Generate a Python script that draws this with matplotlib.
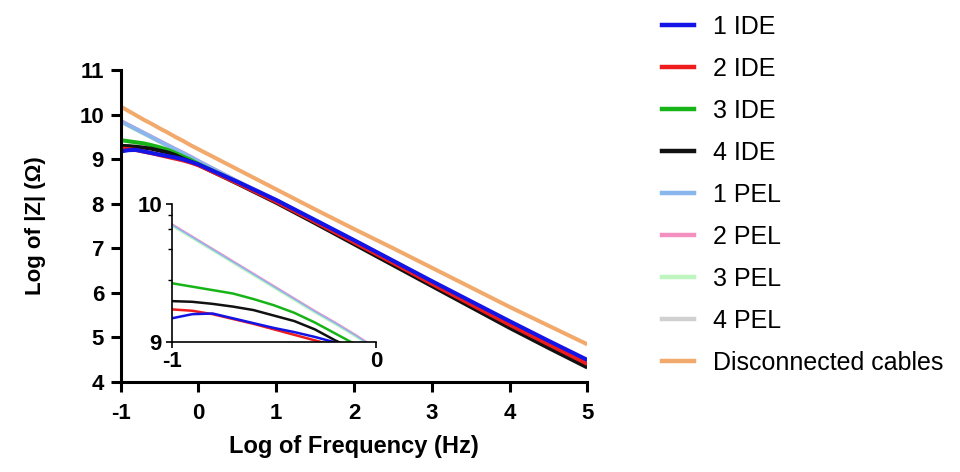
import matplotlib
matplotlib.use("Agg")
import matplotlib.pyplot as plt
from matplotlib.lines import Line2D

plt.rcParams['font.family'] = ['Liberation Sans', 'DejaVu Sans']
plt.rcParams['axes.unicode_minus'] = False

# log of frequency (Hz)
log_f = [-1, -0.9, -0.8, -0.7, -0.6, -0.5, -0.4, -0.3, -0.2, -0.1, 0,
         0.5, 1, 1.5, 2, 2.5, 3, 3.5, 4, 4.5, 5]

# log of |Z| for each electrode
ide1 = [9.17, 9.20, 9.205, 9.17, 9.135, 9.10, 9.07, 9.035, 8.995, 8.94, 8.88,
        8.49, 8.08, 7.63, 7.18, 6.72, 6.26, 5.81, 5.36, 4.92, 4.49]
ide2 = [9.235, 9.225, 9.20, 9.165, 9.13, 9.09, 9.05, 9.01, 8.97, 8.92, 8.86,
        8.46, 8.04, 7.59, 7.13, 6.67, 6.20, 5.74, 5.28, 4.84, 4.40]
ide3 = [9.425, 9.40, 9.375, 9.35, 9.31, 9.265, 9.21, 9.14, 9.06, 8.98, 8.89,
        8.48, 8.06, 7.61, 7.15, 6.69, 6.23, 5.77, 5.31, 4.87, 4.44]
ide4 = [9.295, 9.29, 9.275, 9.255, 9.23, 9.19, 9.15, 9.09, 9.01, 8.94, 8.87,
        8.45, 8.02, 7.56, 7.09, 6.62, 6.15, 5.68, 5.21, 4.76, 4.32]
pel1 = [9.85, 9.76, 9.67, 9.58, 9.49, 9.40, 9.31, 9.22, 9.135, 9.045, 8.95,
        8.50, 8.08, 7.63, 7.17, 6.71, 6.25, 5.79, 5.34, 4.90, 4.47]
pel2 = [9.857, 9.767, 9.677, 9.587, 9.497, 9.407, 9.317, 9.227, 9.142, 9.052, 8.955,
        8.50, 8.07, 7.62, 7.16, 6.70, 6.24, 5.78, 5.32, 4.88, 4.45]
pel3 = [9.84, 9.75, 9.66, 9.57, 9.48, 9.39, 9.30, 9.21, 9.125, 9.035, 8.94,
        8.49, 8.07, 7.62, 7.16, 6.70, 6.24, 5.78, 5.33, 4.89, 4.46]
pel4 = [9.845, 9.755, 9.665, 9.575, 9.485, 9.395, 9.305, 9.215, 9.13, 9.04, 8.945,
        8.49, 8.06, 7.61, 7.15, 6.69, 6.23, 5.77, 5.32, 4.88, 4.45]
cables = [10.18, 10.08, 9.98, 9.88, 9.79, 9.69, 9.60, 9.50, 9.41, 9.31, 9.22,
          8.77, 8.32, 7.87, 7.43, 7.00, 6.56, 6.12, 5.68, 5.26, 4.84]

labels = ['1 IDE', '2 IDE', '3 IDE', '4 IDE', '1 PEL', '2 PEL', '3 PEL', '4 PEL',
          'Disconnected cables']
colors = ['#1414e6', '#ee1c1c', '#16b416', '#111111', '#8ab6ee', '#f490c0',
          '#bff5bf', '#d0d0d0', '#f2aa6c']
series = [ide1, ide2, ide3, ide4, pel1, pel2, pel3, pel4, cables]

# drawing order: PELs underneath, then IDEs, blue on top
order = [8, 7, 6, 5, 4, 2, 3, 1, 0]

fig = plt.figure(figsize=(9.6, 4.72), dpi=100)
ax = fig.add_axes([0.1257, 0.1913, 0.4861, 0.6604])

for i in order:
    ax.plot(log_f, series[i], color=colors[i], lw=2.9, solid_capstyle='butt')

ax.set_xlim(-1, 5)
ax.set_ylim(4, 11)
ax.set_xticks(range(-1, 6))
ax.set_yticks(range(4, 12))
for s in ['top', 'right']:
    ax.spines[s].set_visible(False)
for s in ['left', 'bottom']:
    ax.spines[s].set_linewidth(2.2)
ax.tick_params(width=2.2, length=7, labelsize=16, pad=5)
ax.tick_params(axis='x', pad=8)
for t in ax.get_xticklabels() + ax.get_yticklabels():
    t.set_fontweight('bold')
ax.set_xlabel('Log of Frequency (Hz)', fontsize=17, fontweight='bold', labelpad=8)
ax.set_ylabel('Log of |Z| (Ω)', fontsize=16, fontweight='bold', labelpad=24)

# inset zoom on the low frequency end
axi = fig.add_axes([0.1789, 0.276, 0.2128, 0.2917])
axi.patch.set_visible(False)
for i in order:
    if i == 8:
        continue
    w = 1.1 if 4 <= i <= 7 else 1.8
    axi.plot(log_f, series[i], color=colors[i], lw=w)
axi.set_xlim(-1, 0)
axi.set_ylim(9, 10)
axi.set_xticks([-1, 0])
axi.set_yticks([9, 10])
axi.set_yticks([9.45, 9.67, 9.82, 9.92], minor=True)
for s in ['top', 'right']:
    axi.spines[s].set_visible(False)
for s in ['left', 'bottom']:
    axi.spines[s].set_linewidth(1.2)
axi.tick_params(width=1.2, length=4, labelsize=16, pad=3)
axi.tick_params(which='minor', width=1.0, length=3)
for t in axi.get_xticklabels() + axi.get_yticklabels():
    t.set_fontweight('bold')

handles = [Line2D([], [], color=colors[i], lw=3.2) for i in range(len(labels))]
fig.legend(handles, labels, loc='upper left', bbox_to_anchor=(0.684, 0.979),
           frameon=False, fontsize=18, handlelength=1.3, handletextpad=0.75,
           labelspacing=0.72, borderaxespad=0, borderpad=0.2)

fig.savefig('out.png', dpi=100)
